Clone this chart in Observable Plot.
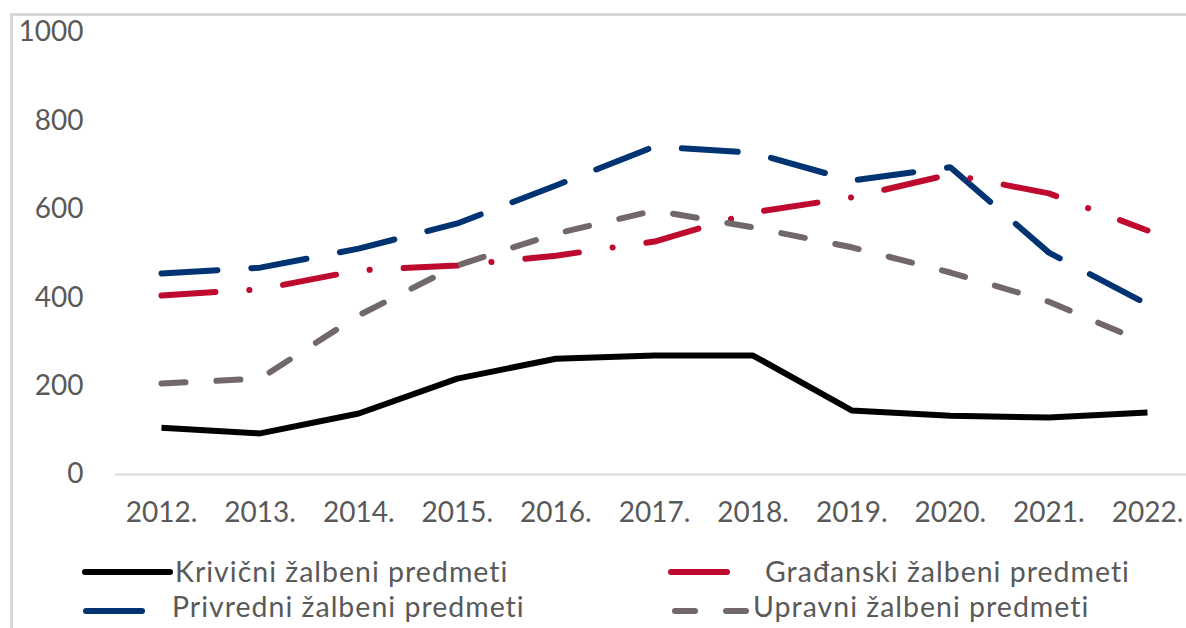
<!DOCTYPE html>
<html><head><meta charset="utf-8">
<script src="https://cdn.jsdelivr.net/npm/d3@7"></script>
<script src="https://cdn.jsdelivr.net/npm/@observablehq/plot@0.6"></script>
<style>
body{margin:0;background:#fff;font-family:Lato,"Open Sans",sans-serif;}
#wrap{position:relative;width:1186px;height:628px;overflow:hidden;background:#fff;}
#chart{position:absolute;left:0;top:0;}
.bt{position:absolute;left:10px;top:13px;width:1176px;height:3px;background:#d9d9d9;}
.bl{position:absolute;left:10px;top:13px;width:3px;height:615px;background:#d9d9d9;}
.lg{position:absolute;font-size:28.5px;letter-spacing:1px;color:#595959;white-space:nowrap;line-height:1.2;}
.ls{position:absolute;}
</style></head>
<body><div id="wrap"><div class="bt"></div><div class="bl"></div><div id="chart"></div></div>
<script>
const years = [2012,2013,2014,2015,2016,2017,2018,2019,2020,2021,2022];
const seriesNames = ["Krivični žalbeni predmeti","Građanski žalbeni predmeti","Privredni žalbeni predmeti","Upravni žalbeni predmeti"];
const krivicni  = [106, 93,138,217,262,269,269,145,133,129,140];
const gradjanski= [405,419,462,473,495,527,593,627,679,636,552];
const privredni = [455,468,511,568,654,742,728,665,695,502,385];
const upravni   = [206,217,360,473,545,597,559,514,457,391,296];
const yTicks = [0,200,400,600,800,1000];
const colors = ["#000000","#BE0A2F","#003371","#72686A"];
const dashes = [null,"54,34,0.1,34","56,34","24,31"];

const valuesList = [krivicni,gradjanski,privredni,upravni];
const tables = valuesList.map((v,i)=>years.map((y,j)=>({year:y,value:v[j],series:seriesNames[i]})));

const lineMarks = [2,1,3,0].map(i=>Plot.line(tables[i],{x:"year",y:"value",stroke:colors[i],strokeWidth:6,
  strokeLinecap: i===0?"butt":"round", strokeLinejoin:"miter", strokeDasharray: dashes[i]||undefined}));

const chart = Plot.plot({
  width:1186, height:545,
  marginLeft:115, marginRight:0, marginTop:32, marginBottom:71,
  style:{fontFamily:"Lato, 'Open Sans', sans-serif", fontSize:"28px", color:"#595959", background:"transparent"},
  x:{type:"linear", domain:[2012,2022], range:[161,1147]},
  y:{domain:[0,1000], range:[474,32]},
  marks:[
    Plot.ruleY([0],{stroke:"#d9d9d9",strokeWidth:2}),
    Plot.axisY({ticks:yTicks, tickFormat:d=>String(d), tickSize:0, tickPadding:32, label:null, fill:"#595959", fontSize:28}),
    Plot.axisX({ticks:years, tickFormat:d=>d+".", tickSize:0, tickPadding:28, label:null, fill:"#595959", fontSize:28}),
    ...lineMarks
  ]
});
document.getElementById("chart").appendChild(chart);

// legend
const wrap = document.getElementById("wrap");
const legendItems = [
  {i:0, x1:85, x2:170, tx:175, ty:554, ly:572, dash:null},
  {i:1, x1:671, x2:727, tx:765, ty:554, ly:572, dash:null},
  {i:2, x1:86, x2:142, tx:172, ty:589, ly:611, dash:null},
  {i:3, x1:675, x2:749, tx:753, ty:589, ly:611, dash:"20,31"}
];
legendItems.forEach(it=>{
  const s = d3.create("svg").attr("class","ls").attr("width",it.x2-it.x1+10).attr("height",16)
    .style("left",(it.x1-5)+"px").style("top",(it.ly-8)+"px");
  s.append("line").attr("x1",5).attr("x2",it.x2-it.x1+5).attr("y1",8).attr("y2",8)
    .attr("stroke",colors[it.i]).attr("stroke-width",6).attr("stroke-linecap","round")
    .attr("stroke-dasharray",it.dash);
  wrap.appendChild(s.node());
  const t = document.createElement("div");
  t.className="lg"; t.textContent=seriesNames[it.i];
  t.style.left=it.tx+"px"; t.style.top=it.ty+"px";
  wrap.appendChild(t);
});
</script></body></html>
